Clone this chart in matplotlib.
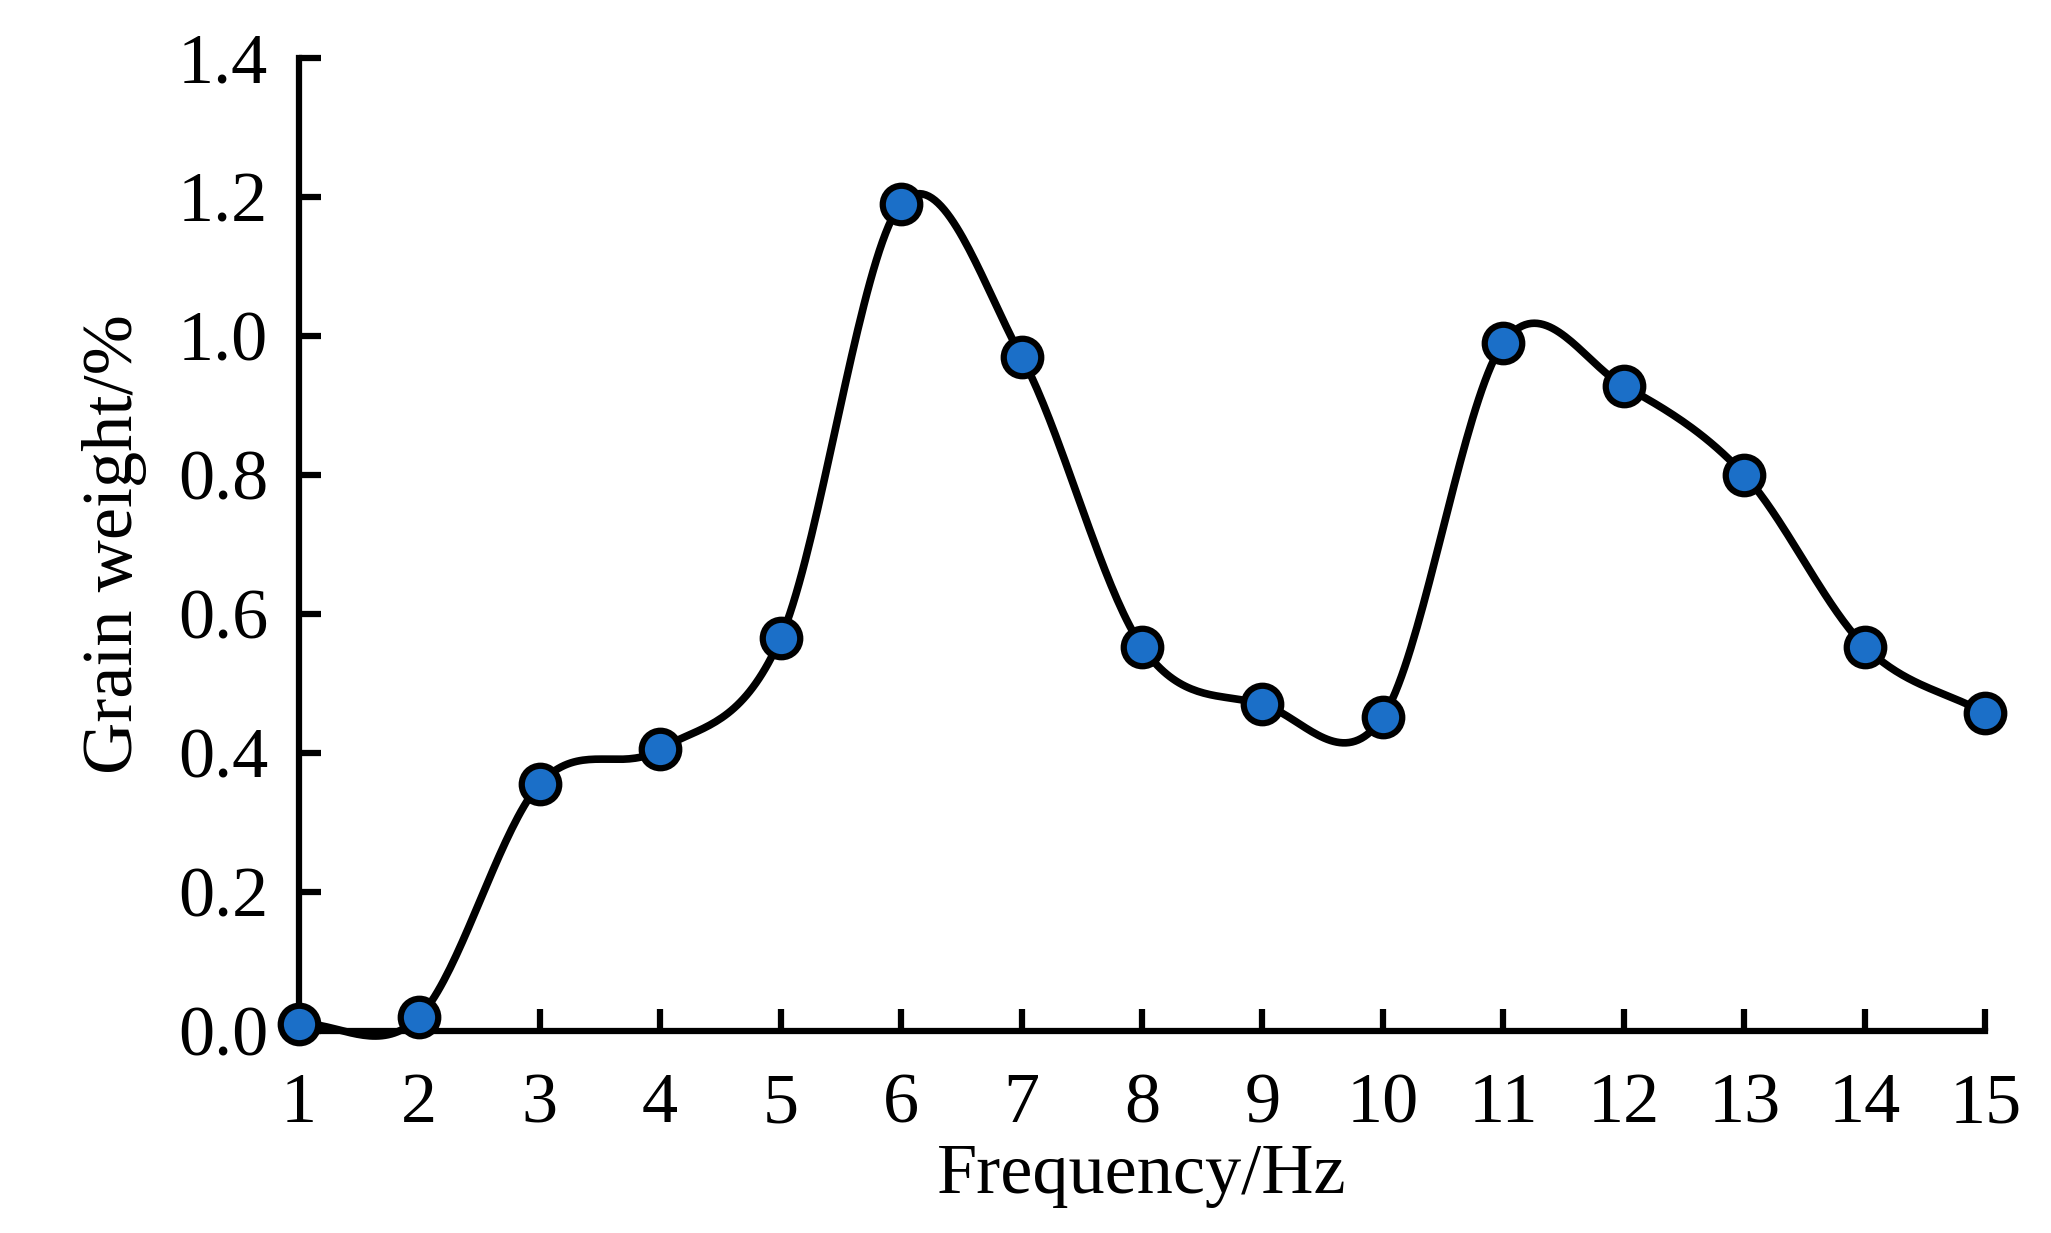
import numpy as np
import matplotlib
matplotlib.use("Agg")
import matplotlib.pyplot as plt

freq = [1, 2, 3, 4, 5, 6, 7, 8, 9, 10, 11, 12, 13, 14, 15]
weight = [0.01, 0.02, 0.355, 0.405, 0.565, 1.19, 0.97, 0.553, 0.47, 0.452, 0.99, 0.928, 0.80, 0.553, 0.457]

def catmull_rom(x, y, n=40):
    x = np.asarray(x, float); y = np.asarray(y, float)
    px = np.concatenate([[2*x[0]-x[1]], x, [2*x[-1]-x[-2]]])
    py = np.concatenate([[2*y[0]-y[1]], y, [2*y[-1]-y[-2]]])
    xs, ys = [], []
    t = np.linspace(0, 1, n)
    for i in range(1, len(px)-2):
        for P, out in ((px, xs), (py, ys)):
            p0, p1, p2, p3 = P[i-1], P[i], P[i+1], P[i+2]
            out.extend(0.5*((2*p1) + (-p0+p2)*t + (2*p0-5*p1+4*p2-p3)*t**2 + (-p0+3*p1-3*p2+p3)*t**3))
    return np.array(xs), np.array(ys)

plt.rcParams['font.family'] = ['Liberation Serif', 'DejaVu Serif']
fig = plt.figure(figsize=(20.51, 12.33), dpi=100)
ax = fig.add_axes([0.1456, 0.164, 0.8224, 0.789])
sx, sy = catmull_rom(freq, weight)
ax.plot(sx, sy, color='black', lw=5.5, clip_on=False, zorder=2)
ax.plot(freq, weight, 'o', ms=27, mfc='#1B6FC8', mec='black', mew=4.5, clip_on=False, zorder=3)
ax.set_xlim(1, 15)
ax.set_ylim(0, 1.4)
ax.set_xticks(freq)
ax.set_yticks(np.arange(0, 1.41, 0.2))
ax.set_yticklabels([f"{v:.1f}" for v in np.arange(0, 1.41, 0.2)])
for s in ['top', 'right']:
    ax.spines[s].set_visible(False)
for s in ['left', 'bottom']:
    ax.spines[s].set_linewidth(4.5)
ax.tick_params(direction='in', length=16, width=4.5, labelsize=52)
ax.tick_params(axis='x', pad=30)
ax.tick_params(axis='y', pad=22)
ax.set_xlabel('Frequency/Hz', fontsize=52, labelpad=4)
ax.set_ylabel('Grain weight/%', fontsize=52, labelpad=22)
fig.savefig('out.png', dpi=100)
